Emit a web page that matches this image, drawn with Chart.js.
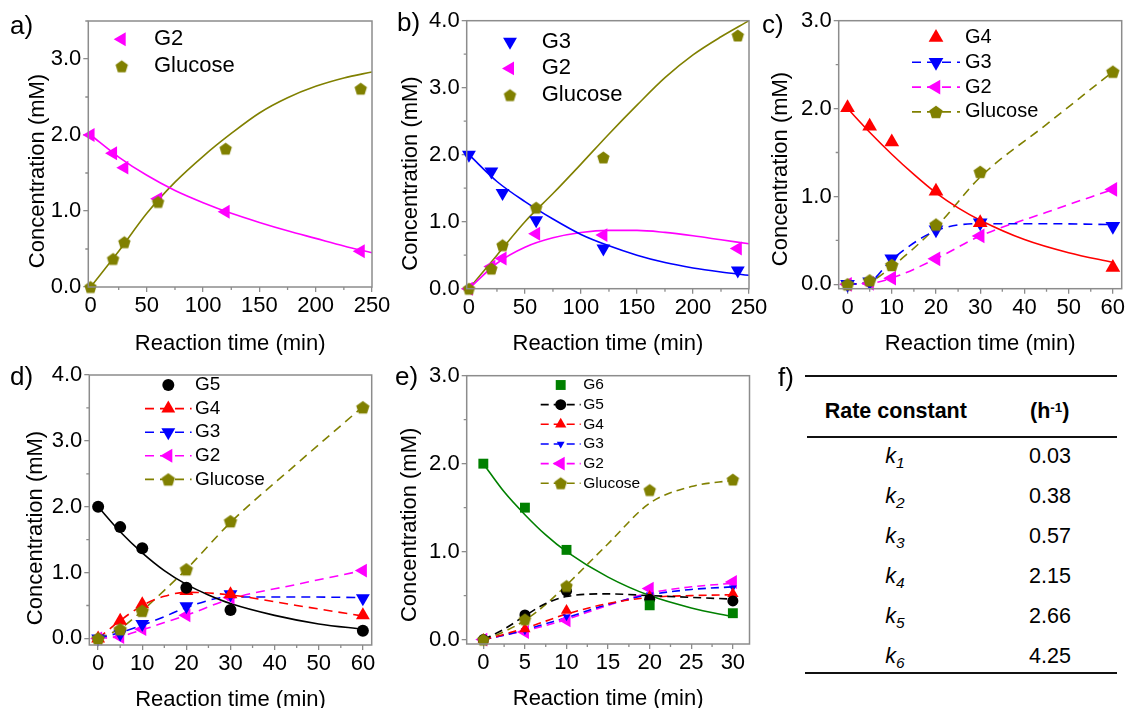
<!DOCTYPE html>
<html>
<head>
<meta charset="utf-8">
<title>Oligosaccharide hydrolysis kinetics</title>
<script src="https://cdn.jsdelivr.net/npm/chart.js@4.4.1/dist/chart.umd.min.js"></script>
<style>
  html, body { margin: 0; padding: 0; background: #fff; }
  body { position: relative; width: 1126px; height: 708px; overflow: hidden; font-family: 'Liberation Sans', Arial, sans-serif; color: #000; }
  canvas { position: absolute; }
  .t { position: absolute; line-height: 0; white-space: nowrap; transform: translateX(-50%); font-size: 21.5px; }
  .rule { position: absolute; height: 2px; background: #111; }
  .sup { position: relative; top: -0.45em; font-size: 0.62em; }
  .sub { position: relative; top: 0.32em; font-size: 0.72em; font-style: italic; }
</style>
</head>
<body>
<canvas id="chartA"></canvas>
<canvas id="chartB"></canvas>
<canvas id="chartC"></canvas>
<canvas id="chartD"></canvas>
<canvas id="chartE"></canvas>
<div id="table"></div>
<script>
// ---- Tick labels ----
const xTicksLong = [0, 50, 100, 150, 200, 250];
const xTicks60 = [0, 10, 20, 30, 40, 50, 60];
const xTicks30 = [0, 5, 10, 15, 20, 25, 30];
const yTicks3 = [0, 1, 2, 3];
const yTicks4 = [0, 1, 2, 3, 4];

// ---- Panel a: G2 ----
const timeA = [0, 20, 30, 60, 120, 240];
const g2A = [2.0, 1.76, 1.57, 1.16, 0.99, 0.47];
const glucoseA = [0, 0.37, 0.59, 1.12, 1.82, 2.61];
const fitTimeA = [0, 25, 50, 75, 100, 125, 150, 175, 200, 225, 250];
const fitG2A = [2.0, 1.71, 1.47, 1.27, 1.11, 0.97, 0.85, 0.74, 0.64, 0.54, 0.45];
const fitGlucoseA = [0, 0.47, 0.97, 1.38, 1.72, 2.02, 2.29, 2.49, 2.64, 2.75, 2.83];

// ---- Panel b: G3 ----
const timeB = [0, 20, 30, 60, 120, 240];
const g3B = [2.0, 1.75, 1.43, 1.02, 0.60, 0.27];
const g2B = [0, 0.33, 0.45, 0.82, 0.80, 0.60];
const glucoseB = [0, 0.30, 0.65, 1.21, 1.96, 3.78];
const fitTimeB = [0, 25, 50, 75, 100, 125, 150, 175, 200, 225, 250];
const fitG3B = [2.0, 1.60, 1.30, 1.04, 0.81, 0.64, 0.50, 0.39, 0.31, 0.25, 0.20];
const fitG2B = [0, 0.38, 0.62, 0.76, 0.84, 0.87, 0.87, 0.84, 0.79, 0.73, 0.67];
const fitGlucoseB = [0, 0.50, 1.00, 1.42, 1.86, 2.31, 2.74, 3.15, 3.49, 3.76, 4.00];

// ---- Panel c: G4 ----
const timeC = [0, 5, 10, 20, 30, 60];
const g4C = [2.01, 1.80, 1.62, 1.06, 0.70, 0.19];
const g3C = [0, 0.03, 0.29, 0.62, 0.70, 0.66];
const g2C = [0, 0.01, 0.07, 0.29, 0.55, 1.08];
const glucoseC = [0, 0.045, 0.22, 0.68, 1.28, 2.42];
const fitTimeC = [0, 5, 10, 15, 20, 25, 30, 40, 50, 60];
const fitG4C = [2.0, 1.73, 1.48, 1.25, 1.04, 0.87, 0.73, 0.51, 0.36, 0.25];
const modelTimeC = [0, 5, 10, 20, 30, 45, 60];
const modelG3C = [0, 0.03, 0.28, 0.61, 0.69, 0.69, 0.68];
const modelG2C = [0, 0.01, 0.07, 0.29, 0.55, 0.82, 1.08];
const modelGlucoseC = [0, 0.03, 0.20, 0.65, 1.22, 1.82, 2.42];

// ---- Panel d: G5 ----
const timeD = [0, 5, 10, 20, 30, 60];
const g5D = [2.0, 1.69, 1.37, 0.77, 0.43, 0.115];
const g4D = [0, 0.27, 0.52, 0.72, 0.67, 0.35];
const g3D = [0, 0.07, 0.22, 0.49, 0.67, 0.61];
const g2D = [0, 0.02, 0.14, 0.35, 0.62, 1.03];
const glucoseD = [0, 0.14, 0.42, 1.05, 1.78, 3.51];
const fitTimeD = [0, 5, 10, 15, 20, 25, 30, 40, 50, 60];
const fitG5D = [2.0, 1.62, 1.30, 1.03, 0.82, 0.66, 0.53, 0.35, 0.22, 0.14];
const modelTimeD = [0, 5, 10, 15, 20, 30, 45, 60];
const modelG4D = [0, 0.27, 0.50, 0.64, 0.70, 0.66, 0.50, 0.34];
const modelG3D = [0, 0.09, 0.20, 0.33, 0.47, 0.63, 0.63, 0.62];
const modelG2D = [0, 0.03, 0.13, 0.24, 0.35, 0.60, 0.82, 1.03];
const modelGlucoseD = [0, 0.15, 0.42, 0.73, 1.05, 1.76, 2.65, 3.52];

// ---- Panel e: G6 ----
const timeE = [0, 5, 10, 20, 30];
const g6E = [2.0, 1.50, 1.02, 0.39, 0.30];
const g5E = [0, 0.28, 0.55, 0.46, 0.44];
const g4E = [0, 0.12, 0.33, 0.49, 0.52];
const g3E = [0, 0.10, 0.26, 0.51, 0.59];
const g2E = [0, 0.087, 0.22, 0.58, 0.655];
const glucoseE = [0, 0.23, 0.61, 1.70, 1.82];
const modelTimeE = [0, 2.5, 5, 7.5, 10, 15, 20, 25, 30];
const fitG6E = [2.0, 1.68, 1.42, 1.19, 1.0, 0.71, 0.50, 0.36, 0.26];
const modelG5E = [0, 0.12, 0.27, 0.41, 0.49, 0.52, 0.50, 0.48, 0.46];
const modelG4E = [0, 0.06, 0.13, 0.21, 0.29, 0.41, 0.48, 0.50, 0.51];
const modelG3E = [0, 0.05, 0.11, 0.18, 0.25, 0.40, 0.51, 0.57, 0.60];
const modelG2E = [0, 0.05, 0.10, 0.16, 0.23, 0.39, 0.53, 0.60, 0.64];
const modelGlucoseE = [0, 0.09, 0.22, 0.40, 0.62, 1.09, 1.55, 1.74, 1.81];

// ---- Panel f: rate constants ----
const rateIndex = ['1', '2', '3', '4', '5', '6'];
const rateValues = ['0.03', '0.38', '0.57', '2.15', '2.66', '4.25'];

const FONT = "'Liberation Sans', Arial, sans-serif";
const FRAME = '#8c8c8c';
const MAGENTA = '#ff00ff', BLUE = '#0000ff', RED = '#ff0000', BLACK = '#000000', GREEN = '#008000', OLIVE = '#808000';

// Chart.js has no pentagon point style, so draw one into a small canvas
const pentagon = (r, color) => {
  const size = Math.ceil(2 * r + 2);
  const c = document.createElement('canvas');
  c.width = size;
  c.height = size;
  const g = c.getContext('2d');
  g.fillStyle = color;
  g.beginPath();
  for (let i = 0; i < 5; i++) {
    const ang = -Math.PI / 2 + i * 2 * Math.PI / 5;
    const px = size / 2 + r * Math.cos(ang);
    const py = size / 2 + 0.095 * r + r * Math.sin(ang);
    if (i === 0) g.moveTo(px, py); else g.lineTo(px, py);
  }
  g.closePath();
  g.fill();
  return c;
};

const pts = (xs, ys) => xs.map((x, i) => ({ x, y: ys[i] }));

const marker = (label, xs, ys, color, style, radius, rotation = 0, order = 0) => ({
  label, data: pts(xs, ys), showLine: false,
  pointStyle: style, pointRadius: radius, pointHoverRadius: radius, pointRotation: rotation,
  pointBackgroundColor: color, pointBorderColor: color, pointBorderWidth: 0,
  borderColor: color, backgroundColor: color, order, clip: false
});

const curve = (label, xs, ys, color, dash = []) => ({
  label, data: pts(xs, ys), borderColor: color, borderWidth: 1.6, borderDash: dash,
  pointRadius: 0, pointHoverRadius: 0, cubicInterpolationMode: 'monotone', fill: false, order: 5
});

const axis = (min, max, values, fmt, size, pad) => ({
  type: 'linear', min, max,
  afterBuildTicks: (s) => { s.ticks = values.map((v) => ({ value: v })); },
  ticks: {
    autoSkip: false, maxRotation: 0,
    color: '#000', padding: pad, font: { family: FONT, size: 22 }, callback: fmt
  },
  grid: { drawOnChartArea: false, drawTicks: true, tickLength: 5, lineWidth: 1.3, color: FRAME },
  border: { display: false },
  afterFit: (s) => { if (s.isHorizontal()) s.height = size; else s.width = size; }
});

const isMajor = (v, step) => Math.abs(v / step - Math.round(v / step)) < 1e-6;

// frame, minor ticks, axis titles, panel letter and in-plot legend
const decor = {
  id: 'decor',
  afterDraw(chart, args, o) {
    const { ctx, chartArea: a } = chart;
    const xs = chart.scales.x, ys = chart.scales.y;
    ctx.save();
    ctx.strokeStyle = FRAME;
    ctx.lineWidth = 1.3;
    ctx.beginPath();
    for (let v = Math.ceil(xs.min / o.minorX) * o.minorX; v <= xs.max + 1e-9; v += o.minorX) {
      if (isMajor(v, o.majorX)) continue;
      const px = xs.getPixelForValue(v);
      ctx.moveTo(px, a.bottom);
      ctx.lineTo(px, a.bottom + 3);
    }
    for (let v = Math.ceil(ys.min / o.minorY) * o.minorY; v <= ys.max + 1e-9; v += o.minorY) {
      if (isMajor(v, o.majorY)) continue;
      const py = ys.getPixelForValue(v);
      ctx.moveTo(a.left, py);
      ctx.lineTo(a.left - 3, py);
    }
    ctx.stroke();
    ctx.lineWidth = 1.5;
    ctx.strokeRect(a.left, a.top, a.right - a.left, a.bottom - a.top);

    ctx.fillStyle = '#000';
    ctx.font = `22px ${FONT}`;
    ctx.textAlign = 'center';
    ctx.textBaseline = 'alphabetic';
    ctx.fillText('Reaction time (min)', (a.left + a.right) / 2, a.bottom + o.xTitleDy);
    ctx.save();
    ctx.translate(a.left + o.yTitleDx, (a.top + a.bottom) / 2 + o.yTitleDy);
    ctx.rotate(-Math.PI / 2);
    ctx.textBaseline = 'middle';
    ctx.fillText('Concentration (mM)', 0, 0);
    ctx.restore();

    ctx.font = `26px ${FONT}`;
    ctx.textAlign = 'left';
    ctx.fillText(o.letter, o.letterX - o.boxLeft, o.letterY - o.boxTop);

    const L = o.legend;
    ctx.font = `${L.font}px ${FONT}`;
    ctx.textBaseline = 'middle';
    L.items.forEach((it, i) => {
      const y = a.top + L.y + i * L.dy;
      const mx = a.left + L.x;
      const m = chart.data.datasets[it.m];
      if (it.l != null) {
        const c = chart.data.datasets[it.l];
        ctx.strokeStyle = c.borderColor;
        ctx.lineWidth = c.borderWidth;
        ctx.setLineDash(c.borderDash);
        ctx.beginPath();
        ctx.moveTo(mx - L.half, y);
        ctx.lineTo(mx + L.half, y);
        ctx.stroke();
        ctx.setLineDash([]);
      }
      ctx.fillStyle = m.pointBackgroundColor;
      ctx.strokeStyle = m.pointBackgroundColor;
      Chart.helpers.drawPoint(ctx, { pointStyle: m.pointStyle, rotation: m.pointRotation, radius: m.pointRadius, borderWidth: 0 }, mx, y);
      ctx.fillStyle = '#000';
      ctx.fillText(m.label, a.left + L.textX, y);
    });
    ctx.restore();
  }
};
Chart.register(decor);

const makePanel = (cfg) => {
  const { id, box, area } = cfg;
  const canvas = document.getElementById(id);
  canvas.width = box.w;
  canvas.height = box.h;
  canvas.style.left = box.left + 'px';
  canvas.style.top = box.top + 'px';
  return new Chart(canvas, {
    type: 'line',
    data: { datasets: cfg.datasets },
    options: {
      responsive: false,
      animation: false,
      devicePixelRatio: 1,
      events: [],
      layout: { padding: { left: 0, bottom: 0, top: area.t - box.top, right: box.left + box.w - area.r } },
      plugins: {
        legend: { display: false },
        tooltip: { enabled: false },
        decor: {
          boxLeft: box.left, boxTop: box.top,
          letter: cfg.letter[0], letterX: cfg.letter[1], letterY: cfg.letter[2],
          majorX: cfg.x[2][1] - cfg.x[2][0], minorX: cfg.x[3],
          majorY: cfg.y[2][1] - cfg.y[2][0], minorY: cfg.y[3],
          xTitleDy: cfg.xTitleDy, yTitleDx: cfg.yTitle[0], yTitleDy: cfg.yTitle[1],
          legend: cfg.legend
        }
      },
      scales: {
        x: axis(cfg.x[0], cfg.x[1], cfg.x[2], (v) => String(v), box.top + box.h - area.b, 1),
        y: axis(cfg.y[0], cfg.y[1], cfg.y[2], (v) => v.toFixed(1), area.l - box.left, 2)
      }
    }
  });
};

const penta65 = pentagon(6.5, OLIVE);
const penta7 = pentagon(7, OLIVE);

makePanel({
  id: 'chartA',
  box: { left: 0, top: 0, w: 400, h: 360 },
  area: { l: 88.3, r: 372, t: 21, b: 287 },
  x: [-2, 250, xTicksLong, 25], y: [0, 3.5, yTicks3, 0.5],
  letter: ['a)', 10, 34], xTitleDy: 62.5, yTitle: [-50.8, 17],
  legend: { x: 33.4, y: 18.3, dy: 27, textX: 65.7, half: 0, font: 22, items: [{ m: 0 }, { m: 1 }] },
  datasets: [
    marker('G2', timeA, g2A, MAGENTA, 'triangle', 8, -90),
    marker('Glucose', timeA, glucoseA, OLIVE, penta65, 7, 0, -1),
    curve('G2 fit', fitTimeA, fitG2A, MAGENTA),
    curve('Glucose fit', fitTimeA, fitGlucoseA, OLIVE)
  ]
});

makePanel({
  id: 'chartB',
  box: { left: 375, top: 0, w: 402, h: 360 },
  area: { l: 466.7, r: 749, t: 20.7, b: 288.7 },
  x: [-2, 250, xTicksLong, 25], y: [0, 4, yTicks4, 0.5],
  letter: ['b)', 397, 31], xTitleDy: 61.3, yTitle: [-55.7, 18.8],
  legend: { x: 43.3, y: 21, dy: 26.7, textX: 75, half: 0, font: 22, items: [{ m: 0 }, { m: 1 }, { m: 2 }] },
  datasets: [
    marker('G3', timeB, g3B, BLUE, 'triangle', 8, 180),
    marker('G2', timeB, g2B, MAGENTA, 'triangle', 8, -90),
    marker('Glucose', timeB, glucoseB, OLIVE, penta65, 7, 0, -1),
    curve('G3 fit', fitTimeB, fitG3B, BLUE),
    curve('G2 fit', fitTimeB, fitG2B, MAGENTA),
    curve('Glucose fit', fitTimeB, fitGlucoseB, OLIVE)
  ]
});

const dashC = [9, 6];
makePanel({
  id: 'chartC',
  box: { left: 750, top: 0, w: 400, h: 360 },
  area: { l: 838.7, r: 1121.7, t: 20.7, b: 288.7 },
  x: [-2, 62, xTicks60, 5], y: [-0.05, 3, yTicks3, 0.5],
  letter: ['c)', 762, 33], xTitleDy: 61.3, yTitle: [-57.7, 14.3],
  legend: { x: 97.3, y: 16.8, dy: 24.8, textX: 126.3, half: 24, font: 20,
    items: [{ m: 0 }, { m: 1, l: 5 }, { m: 2, l: 6 }, { m: 3, l: 7 }] },
  datasets: [
    marker('G4', timeC, g4C, RED, 'triangle', 8.5, 0),
    marker('G3', timeC, g3C, BLUE, 'triangle', 8.5, 180),
    marker('G2', timeC, g2C, MAGENTA, 'triangle', 8.5, -90),
    marker('Glucose', timeC, glucoseC, OLIVE, penta7, 7, 0, -1),
    curve('G4 fit', fitTimeC, fitG4C, RED),
    curve('G3 model', modelTimeC, modelG3C, BLUE, dashC),
    curve('G2 model', modelTimeC, modelG2C, MAGENTA, dashC),
    curve('Glucose model', modelTimeC, modelGlucoseC, OLIVE, dashC)
  ]
});

const dashD = [9, 6];
makePanel({
  id: 'chartD',
  box: { left: 0, top: 355, w: 400, h: 353 },
  area: { l: 89.3, r: 371.7, t: 375, b: 645 },
  x: [-2, 62, xTicks60, 5], y: [-0.1, 4, yTicks4, 0.5],
  letter: ['d)', 10, 385], xTitleDy: 60.5, yTitle: [-53.3, 18],
  legend: { x: 79, y: 10, dy: 23.6, textX: 105.7, half: 23.3, font: 19,
    items: [{ m: 0 }, { m: 1, l: 6 }, { m: 2, l: 7 }, { m: 3, l: 8 }, { m: 4, l: 9 }] },
  datasets: [
    marker('G5', timeD, g5D, BLACK, 'circle', 6, 0),
    marker('G4', timeD, g4D, RED, 'triangle', 8, 0),
    marker('G3', timeD, g3D, BLUE, 'triangle', 8, 180),
    marker('G2', timeD, g2D, MAGENTA, 'triangle', 8, -90),
    marker('Glucose', timeD, glucoseD, OLIVE, penta7, 7, 0, -1),
    curve('G5 fit', fitTimeD, fitG5D, BLACK),
    curve('G4 model', modelTimeD, modelG4D, RED, dashD),
    curve('G3 model', modelTimeD, modelG3D, BLUE, dashD),
    curve('G2 model', modelTimeD, modelG2D, MAGENTA, dashD),
    curve('Glucose model', modelTimeD, modelGlucoseD, OLIVE, dashD)
  ]
});

const dashE = [8, 5];
makePanel({
  id: 'chartE',
  box: { left: 375, top: 355, w: 402, h: 353 },
  area: { l: 466.7, r: 749.5, t: 375.7, b: 644 },
  x: [-2, 32, xTicks30, 2.5], y: [-0.05, 3, yTicks3, 0.5],
  letter: ['e)', 395, 385], xTitleDy: 61, yTitle: [-56.7, 15],
  legend: { x: 94, y: 9.3, dy: 19.65, textX: 116.6, half: 20, font: 15.5,
    items: [{ m: 0 }, { m: 1, l: 7 }, { m: 2, l: 8 }, { m: 3, l: 9 }, { m: 4, l: 10 }, { m: 5, l: 11 }] },
  datasets: [
    marker('G6', timeE, g6E, GREEN, 'rect', 7, 0),
    marker('G5', timeE, g5E, BLACK, 'circle', 5.5, 0),
    marker('G4', timeE, g4E, RED, 'triangle', 6.5, 0),
    marker('G3', timeE, g3E, BLUE, 'triangle', 4.5, 180),
    marker('G2', timeE, g2E, MAGENTA, 'triangle', 8, -90),
    marker('Glucose', timeE, glucoseE, OLIVE, penta65, 7, 0, -1),
    curve('G6 fit', modelTimeE, fitG6E, GREEN),
    curve('G5 model', modelTimeE, modelG5E, BLACK, dashE),
    curve('G4 model', modelTimeE, modelG4E, RED, dashE),
    curve('G3 model', modelTimeE, modelG3E, BLUE, dashE),
    curve('G2 model', modelTimeE, modelG2E, MAGENTA, dashE),
    curve('Glucose model', modelTimeE, modelGlucoseE, OLIVE, dashE)
  ]
});

// ---- Panel f: table of rate constants ----
const table = document.getElementById('table');
const place = (html, cx, baseline, size = 21.5, centered = true) => {
  const el = document.createElement('div');
  el.className = 't';
  el.innerHTML = html;
  el.style.fontSize = size + 'px';
  el.style.left = cx + 'px';
  el.style.top = (baseline - 0.3465 * size) + 'px';
  if (!centered) el.style.transform = 'none';
  table.appendChild(el);
};
const rule = (x, y, w) => {
  const el = document.createElement('div');
  el.className = 'rule';
  el.style.left = x + 'px';
  el.style.top = y + 'px';
  el.style.width = w + 'px';
  table.appendChild(el);
};

place('f)', 778, 386, 26, false);
rule(805, 375, 312);
place('<b>Rate constant</b>', 895.8, 418.3);
place('<b>(h<span class="sup">-1</span>)</b>', 1049.7, 418.3);
rule(807, 436, 310);
rateIndex.forEach((n, i) => {
  const base = 463.3 + 40 * i;
  place(`<i>k</i><span class="sub">${n}</span>`, 895, base);
  place(rateValues[i], 1050, base);
});
rule(805, 672, 312);
</script>
</body>
</html>
